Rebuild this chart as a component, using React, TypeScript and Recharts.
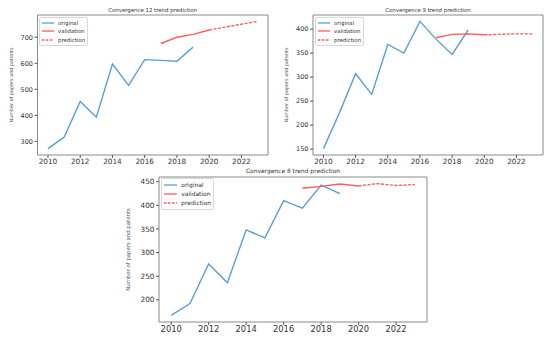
import { LineChart, Line, XAxis, YAxis, ReferenceArea, Legend } from "recharts";

// years on the x axis, ticks every two years
const years = [2010, 2011, 2012, 2013, 2014, 2015, 2016, 2017, 2018, 2019, 2020, 2021, 2022, 2023];
const xTicks = [2010, 2012, 2014, 2016, 2018, 2020, 2022];
const seriesNames = ["original", "validation", "prediction"];

// Convergence 12
const c12Original = [272, 316, 453, 393, 597, 515, 614, 611, 608, 662];
const c12Validation = [676, 700, 711, 728]; // 2017-2020
const c12Prediction = [728, 739, 750, 761]; // 2020-2023
const c12Ticks = [300, 400, 500, 600, 700];

// Convergence 9
const c9Original = [151, 226, 307, 264, 368, 350, 416, 379, 347, 398];
const c9Validation = [382, 389, 390, 388];
const c9Prediction = [388, 389, 390, 390];
const c9Ticks = [150, 200, 250, 300, 350, 400];

// Convergence 8
const c8Original = [167, 192, 276, 236, 348, 331, 410, 394, 443, 425];
const c8Validation = [436, 440, 445, 441];
const c8Prediction = [441, 446, 442, 444];
const c8Ticks = [200, 250, 300, 350, 400, 450];

const BLUE = "#5a9fd6";
const RED = "#ff5b5b";
const FONT = "DejaVu Sans, sans-serif";

function buildRows(original: number[], validation: number[], prediction: number[]) {
  return years.map((year, i) => ({
    year,
    original: i < original.length ? original[i] : null,
    validation: year >= 2017 && year <= 2020 ? validation[year - 2017] : null,
    prediction: year >= 2020 ? prediction[year - 2020] : null,
  }));
}

// matplotlib style 5% margins
function padded(values: number[]): [number, number] {
  const lo = Math.min(...values);
  const hi = Math.max(...values);
  const pad = (hi - lo) * 0.05;
  return [lo - pad, hi + pad];
}

const xDomain = padded([2010, 2023]);

const LegendBox = ({ s }: { s: number }) => (
  <div
    style={{
      border: "1px solid #d8d8d8",
      borderRadius: 2,
      background: "#fff",
      padding: `${1.5 * s}px ${2 * s}px`,
      fontFamily: FONT,
      fontSize: 5.4 * s,
      color: "#333",
      lineHeight: `${8.3 * s}px`,
    }}
  >
    {seriesNames.map((name, i) => (
      <div key={name} style={{ display: "flex", alignItems: "center" }}>
        <svg width={12 * s} height={4}>
          <line
            x1={0}
            x2={12 * s}
            y1={2}
            y2={2}
            stroke={i === 0 ? BLUE : RED}
            strokeWidth={1.3}
            strokeDasharray={i === 2 ? "2.5 1.5" : undefined}
          />
        </svg>
        <span style={{ marginLeft: 4 * s }}>{name}</span>
      </div>
    ))}
  </div>
);

interface PanelProps {
  title: string;
  original: number[];
  validation: number[];
  prediction: number[];
  yTicks: number[];
  left: number;
  top: number;
  width: number;
  height: number;
  marginTop: number;
  marginRight: number;
  yWidth: number;
  xHeight: number;
  labelOffset: number;
  titleY: number;
  legendX: number;
  legendY: number;
  s: number;
  xFont: number;
  yFont: number;
}

function Panel(p: PanelProps) {
  const rows = buildRows(p.original, p.validation, p.prediction);
  const yDomain = padded([...p.original, ...p.validation, ...p.prediction]);
  const plotLeft = p.yWidth;
  const plotRight = p.width - p.marginRight;
  return (
    <div style={{ position: "absolute", left: p.left, top: p.top, width: p.width, height: p.height }}>
      <div
        style={{
          position: "absolute",
          left: plotLeft,
          width: plotRight - plotLeft,
          top: p.titleY - 5,
          height: 10,
          lineHeight: "10px",
          textAlign: "center",
          fontFamily: FONT,
          fontSize: 5.4 * p.s,
          color: "#333",
          whiteSpace: "nowrap",
        }}
      >
        {p.title}
      </div>
      <LineChart
        width={p.width}
        height={p.height}
        data={rows}
        margin={{ top: p.marginTop, right: p.marginRight, bottom: 0, left: 0 }}
      >
        <XAxis
          dataKey="year"
          type="number"
          domain={xDomain}
          ticks={xTicks}
          height={p.xHeight}
          axisLine={false}
          tickSize={3}
          tickMargin={1}
          tickLine={{ stroke: "#555" }}
          tick={{ fill: "#333", fontSize: p.xFont, fontFamily: FONT }}
          allowDataOverflow
        />
        <YAxis
          type="number"
          domain={yDomain}
          ticks={p.yTicks}
          width={p.yWidth}
          axisLine={false}
          tickSize={3}
          tickMargin={1.5}
          tickLine={{ stroke: "#555" }}
          tick={{ fill: "#333", fontSize: p.yFont, fontFamily: FONT }}
          allowDataOverflow
          label={{
            value: "Number of papers and patents",
            angle: -90,
            position: "insideLeft",
            offset: p.labelOffset,
            style: { textAnchor: "middle", fontSize: 4.9 * p.s, fill: "#555", fontFamily: FONT },
          }}
        />
        <ReferenceArea
          x1={xDomain[0]}
          x2={xDomain[1]}
          y1={yDomain[0]}
          y2={yDomain[1]}
          fill="none"
          stroke="#8a8a8a"
          strokeWidth={1}
        />
        <Line dataKey="original" stroke={BLUE} strokeWidth={1.4} dot={false} isAnimationActive={false} />
        <Line dataKey="validation" stroke={RED} strokeWidth={1.4} dot={false} isAnimationActive={false} />
        <Line
          dataKey="prediction"
          stroke={RED}
          strokeWidth={1.4}
          strokeDasharray="3 1.5"
          dot={false}
          isAnimationActive={false}
        />
        <Legend
          layout="vertical"
          align="center"
          verticalAlign="middle"
          content={() => <LegendBox s={p.s} />}
          wrapperStyle={{ left: p.legendX, top: p.legendY, width: "auto" }}
        />
      </LineChart>
    </div>
  );
}

export default function App() {
  return (
    <div
      style={{
        position: "absolute",
        left: 0,
        top: 0,
        width: 550,
        height: 338,
        background: "#fff",
        overflow: "hidden",
      }}
    >
      <Panel
        title="Convergence 12 trend prediction"
        original={c12Original}
        validation={c12Validation}
        prediction={c12Prediction}
        yTicks={c12Ticks}
        left={0}
        top={0}
        width={275}
        height={170}
        marginTop={15}
        marginRight={7}
        yWidth={37.5}
        xHeight={15}
        labelOffset={11.7}
        titleY={10}
        legendX={39}
        legendY={16.5}
        s={1}
        xFont={7.3}
        yFont={6.5}
      />
      <Panel
        title="Convergence 9 trend prediction"
        original={c9Original}
        validation={c9Validation}
        prediction={c9Prediction}
        yTicks={c9Ticks}
        left={275}
        top={0}
        width={275}
        height={170}
        marginTop={15}
        marginRight={7}
        yWidth={38}
        xHeight={15}
        labelOffset={11.7}
        titleY={10}
        legendX={40}
        legendY={16.5}
        s={1}
        xFont={7.3}
        yFont={6.5}
      />
      <Panel
        title="Convergence 8 trend prediction"
        original={c8Original}
        validation={c8Validation}
        prediction={c8Prediction}
        yTicks={c8Ticks}
        left={100}
        top={170}
        width={335}
        height={168}
        marginTop={7}
        marginRight={8}
        yWidth={59}
        xHeight={16}
        labelOffset={28}
        titleY={1}
        legendX={60.5}
        legendY={7.5}
        s={1.1}
        xFont={8.3}
        yFont={7.3}
      />
    </div>
  );
}
